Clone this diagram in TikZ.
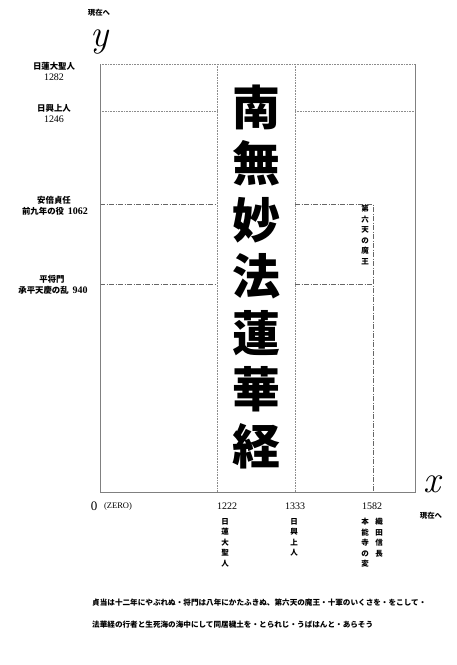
\documentclass[tikz,border=0pt]{standalone}
\usepackage{fontspec}
\newfontfamily\jp{Noto Sans CJK JP}
\newfontfamily\num{Liberation Serif}
\begin{document}
\begin{tikzpicture}[x=1pt,y=-1pt,
  axisline/.style={draw=black!50, line width=0.8pt},
  dotline/.style={draw=black!45, line width=0.7pt, dash pattern=on 0.8pt off 0.8pt},
  dashdotline/.style={draw=black!60, line width=0.7pt, dash pattern=on 5pt off 1.5pt on 1pt off 1.5pt},
  lab/.style={inner sep=0pt, font=\jp\bfseries\fontsize{8.4}{10}\selectfont},
  numlab/.style={inner sep=0pt, font=\num\fontsize{10}{10}\selectfont},
  vlab/.style={inner sep=0pt, anchor=north, align=center, font=\jp\bfseries\fontsize{7.5}{10.5}\selectfont},
  big/.style={inner sep=0pt, font=\jp\bfseries\fontsize{48}{48}\selectfont},
  axislab/.style={inner sep=0pt, text height=0.45em, text depth=0.2em, font=\itshape\fontsize{38}{38}\selectfont},
  small/.style={inner sep=0pt, font=\jp\bfseries\fontsize{7.4}{8}\selectfont},
  para/.style={inner sep=0pt, anchor=west, font=\jp\bfseries\fontsize{7.6}{8}\selectfont}
]
\useasboundingbox (0,0) rectangle (457,665);
\fill[white] (0,0) rectangle (457,665);

% frame coordinates
\coordinate (TL) at (100,64);
\coordinate (TR) at (415,64);
\coordinate (O) at (100,492);
\coordinate (BR) at (415,492);
\coordinate (a1) at (217,64);  \coordinate (a2) at (217,492);
\coordinate (b1) at (295,64);  \coordinate (b2) at (295,492);
\coordinate (h1L) at (100,111); \coordinate (h1a) at (217,111);
\coordinate (h1b) at (295,111); \coordinate (h1R) at (415,111);
\coordinate (h2L) at (100,204); \coordinate (h2a) at (217,204);
\coordinate (h2b) at (295,204); \coordinate (c1) at (373,204);
\coordinate (c2) at (373,492);
\coordinate (h3L) at (100,284); \coordinate (h3a) at (217,284);
\coordinate (h3b) at (295,284); \coordinate (h3R) at (373,284);

% grid lines
\draw[dotline] (TL) -- (TR);
\draw[dotline] (h1L) -- (h1a);
\draw[dotline] (h1b) -- (h1R);
\draw[dotline] (a1) -- (a2);
\draw[dotline] (b1) -- (b2);
\draw[dashdotline] (h2L) -- (h2a);
\draw[dashdotline] (h2b) -- (c1) -- (c2);
\draw[dashdotline] (h3L) -- (h3a);
\draw[dashdotline] (h3b) -- (h3R);
% axes
\draw[axisline] (TL) -- (O) -- (BR) -- (TR);

% axis labels
\node[small] (ynow) at (99,13) {現在へ};
\node[axislab] (ylab) at (100,45) {y};
\node[axislab] (xlab) at (432,491) {x};
\node[small] (xnow) at (431,516) {現在へ};

% left labels
\node[lab] (l1) at (54,66) {日蓮大聖人};
\node[numlab] (l1n) at (54,77) {1282};
\node[lab] (l2) at (54,108) {日興上人};
\node[numlab] (l2n) at (54,119) {1246};
\node[lab] (l3) at (54,200) {安倍貞任};
\node[lab] (l3n) at (55,211) {前九年の役\,{\num\fontsize{10}{10}\selectfont\ 1062}};
\node[lab] (l4) at (52,279) {平将門};
\node[lab] (l4n) at (53,290) {承平天慶の乱\,{\num\fontsize{10}{10}\selectfont\ 940}};

% bottom labels
\node[inner sep=0pt, font=\num\fontsize{13}{13}\selectfont] (zero) at (94,506) {0};
\node[inner sep=0pt, font=\num\fontsize{8.5}{9}\selectfont] (zerot) at (118,506) {(ZERO)};
\node[numlab] (t1) at (227,506) {1222};
\node[numlab] (t2) at (295,506) {1333};
\node[numlab] (t3) at (372,506) {1582};
\node[vlab] (v1) at (225,518) {日\\蓮\\大\\聖\\人};
\node[vlab] (v2) at (294,518) {日\\興\\上\\人};
\node[vlab] (v3) at (379,518) {織\\田\\信\\長};
\node[vlab] (v4) at (365,518) {本\\能\\寺\\の\\変};
\node[vlab] (v5) at (365,205) {第\\六\\天\\の\\魔\\王};

% big title
\node[big] (k1) at (256,107) {南};
\node[big] (k2) at (256,163.5) {無};
\node[big] (k3) at (256,220) {妙};
\node[big] (k4) at (256,276.5) {法};
\node[big] (k5) at (256,333) {蓮};
\node[big] (k6) at (256,389.5) {華};
\node[big] (k7) at (256,446) {経};

% bottom quotation
\node[para] (p1) at (92,603) {貞当は十二年にやぶれぬ・将門は八年にかたふきぬ、第六天の魔王・十軍のいくさを・をこして・};
\node[para] (p2) at (92,625) {法華経の行者と生死海の海中にして同居穢土を・とられじ・うばはんと・あらそう};
\end{tikzpicture}
\end{document}
